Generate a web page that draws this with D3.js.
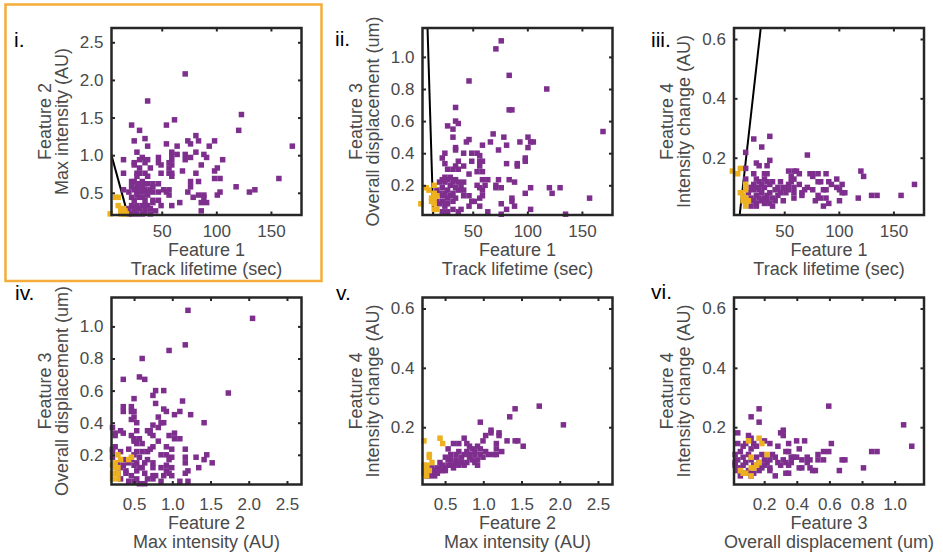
<!DOCTYPE html>
<html>
<head>
<meta charset="utf-8">
<script src="https://cdn.jsdelivr.net/npm/d3@7"></script>
<style>
  body { margin: 0; background: #fff; }
  text { font-family: "Liberation Sans", Arial, Helvetica, sans-serif; }
</style>
</head>
<body>
<svg id="chart" width="943" height="554"></svg>
<script>
// Feature axes (shared between panels)
const featureNames = ["Feature 1", "Feature 2", "Feature 3", "Feature 4"];
const featureUnits = ["Track lifetime (sec)", "Max intensity (AU)", "Overall displacement (um)", "Intensity change (AU)"];
const featureDomains = [[4, 178], [0.205, 2.69], [0.015, 1.18], [0.007, 0.637]];
const featureTicks = [[50, 100, 150], [0.5, 1.0, 1.5, 2.0, 2.5], [0.2, 0.4, 0.6, 0.8, 1.0], [0.2, 0.4, 0.6]];

const panelLabels = ["i.", "ii.", "iii.", "iv.", "v.", "vi."];
const panelPairs = [[0, 1], [0, 2], [0, 3], [1, 2], [1, 3], [2, 3]];

// i. lifetime vs max intensity
const panel1Purple = [[71.5,2.08],[37.1,1.72],[123,1.54],[61.7,1.47],[22.4,1.40],[54.3,1.40],[29.7,1.33],[120.5,1.33],[81.3,1.26],[34.7,1.22],[24.8,1.19],[73.9,1.19],[76.4,1.15],[83.7,1.19],[98.4,1.19],[37.1,1.12],[54.3,1.15],[64.1,1.12],[93.5,1.12],[169.6,1.12],[27.3,1.04],[59.2,1.04],[81.3,1.04],[59.2,1.01],[64.1,1.01],[71.5,1.01],[88.6,1.01],[32.2,0.97],[47,0.97],[76.4,0.97],[91.1,0.97],[15,0.94],[29.7,0.94],[37.1,0.94],[59.2,0.94],[71.5,0.94],[105.8,0.94],[24.8,0.90],[34.7,0.90],[47,0.90],[56.7,0.90],[24.8,0.87],[49.4,0.87],[59.2,0.87],[86.2,0.87],[39.6,0.83],[29.7,0.83],[56.7,0.83],[100.9,0.83],[98.4,0.79],[69,0.79],[15,0.76],[27.3,0.76],[29.7,0.76],[34.7,0.76],[49.4,0.76],[56.7,0.76],[59.2,0.76],[81.3,0.76],[27.3,0.72],[37.1,0.72],[59.2,0.72],[98.4,0.69],[103.4,0.69],[157.3,0.69],[24.8,0.65],[32.2,0.65],[76.4,0.65],[83.7,0.65],[22.4,0.65],[34.7,0.62],[37.1,0.62],[41.9,0.62],[47,0.62],[27.3,0.58],[32.2,0.58],[41.9,0.58],[76.4,0.58],[118.1,0.58],[15,0.54],[24.8,0.54],[34.7,0.54],[39.6,0.54],[51.8,0.54],[56.7,0.54],[135.3,0.54],[19.9,0.51],[27.3,0.51],[32.2,0.51],[37.1,0.51],[41.9,0.51],[47,0.51],[54.3,0.51],[73.9,0.51],[103.4,0.51],[130.3,0.51],[56.7,0.47],[78.8,0.44],[83.7,0.47],[88.6,0.47],[100.9,0.47],[88.6,0.44],[22.4,0.44],[29.7,0.44],[34.7,0.40],[41.9,0.40],[47,0.40],[24.8,0.40],[86.2,0.37],[91.1,0.37],[66.5,0.37],[41.9,0.37],[49.4,0.33],[59.2,0.33],[32.2,0.33],[27.3,0.33],[22.4,0.33],[37.1,0.33],[19.9,0.29],[29.7,0.29],[34.7,0.29],[24.8,0.26],[86.2,0.26],[32.2,0.22],[39.6,0.22],[22.4,0.22],[27.3,0.22],[19.9,0.22],[22.4,0.58],[29.7,0.62],[37.1,0.47],[27.3,0.47],[32.2,0.44],[39.6,0.29],[44.4,0.26],[24.8,0.31],[34.7,0.24],[29.7,0.54]];
const panel1Yellow = [[2.8,0.22],[7.7,0.44],[10.1,0.44],[10.1,0.33],[12.6,0.29],[15,0.29],[12.6,0.26],[15,0.22],[17.5,0.22],[12.6,0.22],[16.3,0.26]];

// ii. lifetime vs displacement
const panel2Purple = [[76.1,1.10],[71.2,1.05],[46.6,0.85],[83.4,0.885],[117.8,0.80],[34.3,0.685],[83.4,0.67],[85.9,0.67],[34.3,0.60],[36.8,0.585],[27,0.57],[31.9,0.55],[169.3,0.535],[68.7,0.52],[31.9,0.50],[78.5,0.50],[100.6,0.50],[46.6,0.485],[44.2,0.47],[66.2,0.47],[93.2,0.47],[103,0.47],[105.5,0.47],[58.9,0.45],[81,0.45],[100.6,0.435],[34.3,0.435],[34.3,0.42],[73.6,0.42],[24.5,0.40],[41.7,0.40],[49.1,0.40],[54,0.40],[56.4,0.385],[22.1,0.37],[98.1,0.37],[49.1,0.35],[56.4,0.35],[58.9,0.35],[98.1,0.35],[24.5,0.335],[81,0.335],[90.8,0.335],[90.8,0.32],[36.8,0.35],[34.3,0.32],[41.7,0.32],[56.4,0.32],[27,0.30],[31.9,0.30],[36.8,0.30],[54,0.285],[58.9,0.285],[46.6,0.27],[24.5,0.25],[29.4,0.25],[22.1,0.235],[27,0.235],[34.3,0.235],[58.9,0.235],[63.8,0.235],[73.6,0.235],[83.4,0.235],[19.6,0.22],[24.5,0.22],[31.9,0.22],[36.8,0.22],[41.7,0.22],[88.3,0.22],[29.4,0.20],[39.3,0.20],[54,0.20],[61.3,0.20],[71.2,0.20],[22.1,0.185],[34.3,0.185],[56.4,0.185],[71.2,0.185],[76.1,0.185],[103,0.185],[120.2,0.185],[130,0.185],[17.2,0.17],[27,0.17],[36.8,0.17],[41.7,0.17],[58.9,0.17],[19.6,0.15],[24.5,0.15],[31.9,0.15],[98.1,0.15],[122.7,0.15],[22.1,0.135],[29.4,0.135],[41.7,0.135],[46.6,0.135],[58.9,0.135],[27,0.12],[34.3,0.12],[85.9,0.12],[56.4,0.12],[157,0.12],[17.2,0.10],[22.1,0.10],[31.9,0.10],[49.1,0.10],[51.5,0.10],[85.9,0.10],[76.1,0.085],[19.6,0.085],[27,0.085],[46.6,0.07],[56.4,0.07],[88.3,0.07],[24.5,0.07],[31.9,0.05],[39.3,0.05],[81,0.05],[103,0.05],[22.1,0.035],[27,0.035],[36.8,0.035],[63.8,0.035],[76.1,0.02],[135,0.02]];
const panel2Yellow = [[2.5,0.085],[7.4,0.185],[9.8,0.17],[14.7,0.20],[14.7,0.15],[12.3,0.12],[14.7,0.12],[14.7,0.085],[14.7,0.05],[17.2,0.05],[12.3,0.10],[17.2,0.135]];

// iii. lifetime vs intensity change
const panel3Purple = [[22.1,0.263],[36.8,0.272],[29.4,0.236],[71.2,0.209],[14.7,0.218],[24.5,0.182],[27,0.173],[36.8,0.191],[34.3,0.173],[14.7,0.164],[54,0.155],[58.9,0.155],[61.3,0.155],[120.2,0.155],[22.1,0.146],[31.9,0.146],[34.3,0.146],[63.8,0.146],[73.6,0.146],[76.1,0.146],[81,0.146],[88.3,0.146],[56.4,0.137],[76.1,0.137],[122.7,0.137],[14.7,0.128],[24.5,0.128],[31.9,0.128],[58.9,0.128],[98.1,0.128],[27,0.119],[34.3,0.119],[39.3,0.119],[46.6,0.119],[56.4,0.119],[81,0.119],[83.4,0.119],[90.8,0.119],[22.1,0.11],[29.4,0.11],[36.8,0.11],[54,0.11],[63.8,0.11],[93.2,0.11],[103,0.11],[169.3,0.11],[19.6,0.10],[24.5,0.10],[31.9,0.10],[44.2,0.10],[49.1,0.10],[58.9,0.10],[71.2,0.10],[98.1,0.10],[22.1,0.092],[27,0.092],[41.7,0.092],[54,0.092],[68.7,0.092],[76.1,0.092],[85.9,0.092],[88.3,0.092],[100.6,0.092],[17.2,0.082],[29.4,0.082],[36.8,0.082],[46.6,0.082],[51.5,0.082],[58.9,0.082],[66.2,0.082],[103,0.082],[105.5,0.082],[24.5,0.073],[34.3,0.073],[44.2,0.073],[66.2,0.073],[81,0.073],[130,0.073],[135,0.073],[157,0.073],[19.6,0.064],[27,0.064],[31.9,0.064],[39.3,0.064],[58.9,0.064],[83.4,0.064],[88.3,0.064],[117.8,0.064],[22.1,0.055],[29.4,0.055],[34.3,0.055],[41.7,0.055],[49.1,0.055],[78.5,0.055],[100.6,0.055],[24.5,0.046],[31.9,0.046],[36.8,0.046],[90.8,0.046],[19.6,0.037],[24.5,0.037],[39.3,0.037],[85.9,0.037]];
const panel3Yellow = [[2.5,0.155],[7.4,0.146],[9.8,0.164],[14.7,0.11],[14.7,0.092],[9.8,0.082],[12.3,0.073],[14.7,0.064],[12.3,0.055],[17.2,0.055],[14.7,0.046],[14.7,0.037]];

// iv. max intensity vs displacement
const panel4Purple = [[1.205,1.10],[2.05,1.05],[1.17,0.885],[0.958,0.85],[0.606,0.80],[0.359,0.67],[0.57,0.685],[0.64,0.67],[0.782,0.60],[0.888,0.60],[1.733,0.585],[0.747,0.57],[0.5,0.55],[1.134,0.535],[0.782,0.52],[0.359,0.50],[0.465,0.50],[0.359,0.47],[0.5,0.47],[0.465,0.47],[0.888,0.485],[0.923,0.47],[1.099,0.47],[1.029,0.45],[1.24,0.45],[0.817,0.435],[0.5,0.435],[0.465,0.42],[0.853,0.40],[0.888,0.40],[0.535,0.40],[1.416,0.40],[0.747,0.385],[0.817,0.37],[0.218,0.37],[0.324,0.35],[0.535,0.35],[0.676,0.35],[0.711,0.35],[0.253,0.335],[0.359,0.335],[0.711,0.335],[1.029,0.335],[0.253,0.32],[0.465,0.32],[0.747,0.32],[0.958,0.32],[1.029,0.30],[1.099,0.30],[0.5,0.30],[0.57,0.30],[0.5,0.285],[0.817,0.285],[0.606,0.27],[0.535,0.27],[0.253,0.25],[0.747,0.25],[0.923,0.25],[0.218,0.235],[0.43,0.235],[0.711,0.235],[0.993,0.235],[1.17,0.235],[0.324,0.22],[0.535,0.22],[0.606,0.22],[0.676,0.22],[0.5,0.20],[0.853,0.20],[0.923,0.20],[1.451,0.20],[0.218,0.185],[0.57,0.185],[0.993,0.185],[1.17,0.185],[1.311,0.185],[0.359,0.17],[0.465,0.17],[0.676,0.17],[0.958,0.17],[1.416,0.17],[0.289,0.15],[0.43,0.15],[0.535,0.15],[0.64,0.15],[0.747,0.15],[1.17,0.15],[1.522,0.15],[0.359,0.135],[0.5,0.135],[0.923,0.135],[0.324,0.12],[0.57,0.12],[0.606,0.12],[0.747,0.12],[0.853,0.12],[0.993,0.12],[1.346,0.12],[0.394,0.10],[0.535,0.10],[0.923,0.10],[1.205,0.10],[0.289,0.085],[0.394,0.085],[0.64,0.085],[0.958,0.085],[1.17,0.085],[0.465,0.07],[0.747,0.07],[0.782,0.07],[0.888,0.07],[0.993,0.07],[0.324,0.05],[0.535,0.05],[0.676,0.05],[0.747,0.05],[0.43,0.035],[0.5,0.035],[0.853,0.035],[1.099,0.035],[1.205,0.035],[0.57,0.02],[0.64,0.02],[0.218,0.22]];
const panel4Yellow = [[0.289,0.20],[0.465,0.185],[0.43,0.17],[0.324,0.17],[0.253,0.15],[0.218,0.135],[0.289,0.12],[0.253,0.12],[0.218,0.085],[0.289,0.085],[0.218,0.05],[0.289,0.05]];

// v. max intensity vs intensity change
const panel5Purple = [[1.732,0.271],[1.416,0.262],[1.346,0.235],[0.961,0.217],[2.048,0.208],[1.101,0.190],[1.206,0.181],[1.101,0.181],[1.031,0.172],[1.206,0.172],[0.75,0.163],[1.311,0.154],[1.417,0.154],[1.452,0.154],[0.61,0.145],[0.68,0.145],[0.785,0.145],[0.996,0.154],[1.171,0.145],[0.54,0.127],[0.82,0.136],[0.925,0.136],[1.522,0.136],[1.241,0.118],[0.68,0.118],[0.855,0.127],[0.961,0.127],[1.171,0.127],[1.066,0.108],[1.136,0.108],[1.171,0.108],[0.504,0.099],[0.75,0.108],[0.89,0.108],[0.996,0.099],[0.575,0.090],[0.645,0.090],[0.82,0.099],[0.855,0.090],[0.925,0.090],[0.715,0.081],[0.61,0.072],[0.785,0.081],[0.89,0.081],[0.925,0.072],[0.434,0.081],[0.469,0.072],[0.54,0.072],[0.68,0.072],[0.75,0.072],[0.399,0.063],[0.504,0.063],[0.61,0.063],[0.364,0.054],[0.434,0.054],[0.504,0.054],[0.329,0.045],[0.399,0.045],[0.294,0.036],[0.364,0.036],[0.259,0.036],[0.645,0.108],[0.575,0.108],[0.715,0.099],[0.785,0.118],[0.82,0.108],[0.89,0.118],[0.961,0.108],[1.031,0.118],[0.469,0.054],[0.54,0.090],[0.575,0.072],[0.645,0.081],[0.294,0.054],[0.329,0.063]];
const panel5Yellow = [[0.224,0.154],[0.434,0.163],[0.469,0.145],[0.294,0.108],[0.294,0.099],[0.329,0.081],[0.224,0.072],[0.259,0.072],[0.224,0.054],[0.294,0.054],[0.224,0.045],[0.259,0.036],[0.224,0.063]];

// vi. displacement vs intensity change
const panel6Purple = [[0.596,0.271],[0.169,0.262],[0.12,0.235],[0.169,0.217],[1.055,0.208],[0.038,0.181],[0.317,0.19],[0.301,0.181],[0.317,0.172],[0.104,0.172],[0.12,0.163],[1.105,0.136],[0.399,0.154],[0.448,0.154],[0.202,0.154],[0.038,0.145],[0.087,0.145],[0.136,0.145],[0.235,0.145],[0.35,0.145],[0.612,0.145],[0.071,0.136],[0.153,0.136],[0.284,0.136],[0.415,0.127],[0.054,0.118],[0.12,0.127],[0.333,0.118],[0.35,0.118],[0.53,0.108],[0.564,0.118],[0.596,0.118],[0.859,0.118],[0.892,0.118],[0.022,0.108],[0.104,0.108],[0.186,0.108],[0.251,0.108],[0.071,0.099],[0.153,0.099],[0.268,0.099],[0.366,0.099],[0.382,0.099],[0.399,0.099],[0.431,0.09],[0.464,0.099],[0.481,0.09],[0.53,0.09],[0.564,0.09],[0.678,0.09],[0.695,0.09],[0.038,0.09],[0.12,0.09],[0.202,0.09],[0.235,0.09],[0.284,0.081],[0.317,0.09],[0.333,0.081],[0.366,0.081],[0.022,0.081],[0.087,0.081],[0.169,0.081],[0.218,0.081],[0.464,0.081],[0.022,0.072],[0.071,0.072],[0.136,0.072],[0.202,0.072],[0.301,0.072],[0.35,0.072],[0.415,0.063],[0.431,0.063],[0.481,0.063],[0.809,0.063],[0.054,0.063],[0.186,0.063],[0.235,0.063],[0.497,0.054],[0.514,0.054],[0.661,0.054],[0.038,0.054],[0.104,0.054],[0.169,0.054],[0.235,0.054],[0.35,0.045],[0.333,0.045],[0.087,0.045],[0.136,0.045],[0.268,0.036],[0.054,0.036],[0.12,0.036]];
const panel6Yellow = [[0.169,0.163],[0.104,0.154],[0.186,0.145],[0.218,0.108],[0.12,0.099],[0.169,0.081],[0.153,0.072],[0.12,0.063],[0.054,0.054],[0.071,0.045],[0.087,0.045],[0.12,0.036],[0.136,0.063]];

const purplePoints = [panel1Purple, panel2Purple, panel3Purple, panel4Purple, panel5Purple, panel6Purple];
const yellowPoints = [panel1Yellow, panel2Yellow, panel3Yellow, panel4Yellow, panel5Yellow, panel6Yellow];

// decision boundaries (data coords), only on the top row
const boundaryLines = [
  [[4, 1.0], [18.9, 0.21]],
  [[8.6, 1.18], [13.8, 0.015]],
  [[28.5, 0.637], [9.2, 0.007]],
  null, null, null
];

// layout
const svg = d3.select("#chart");
const purple = "#7E2F8E", yellow = "#EDB120", axisColor = "#262626", textColor = "#4a4a4a";
const colX = [111.5, 422.5, 734], rowY = [28, 297.5];
const boxW = 190, boxH = 187;
const rowTextOffsets = [[16.5, 35, 54], [20, 38, 57]]; // tick label, line 1, line 2 (below box)
const labelPos = [[14, 47], [335, 46], [651, 47], [15, 300], [336, 300], [651, 299]];
const marker = 5.5;

// highlight box around panel i
svg.append("rect")
  .attr("x", 5.5).attr("y", 4.5).attr("width", 316).attr("height", 276.5)
  .attr("fill", "none").attr("stroke", "#F5AC3B").attr("stroke-width", 2.5);

panelPairs.forEach((pair, i) => {
  const col = i % 3, row = Math.floor(i / 3);
  const [fx, fy] = pair;
  const g = svg.append("g").attr("transform", `translate(${colX[col]},${rowY[row]})`);

  const x = d3.scaleLinear().domain(featureDomains[fx]).range([0, boxW]);
  const y = d3.scaleLinear().domain(featureDomains[fy]).range([boxH, 0]);
  const fmtX = fx === 0 ? d3.format("d") : d3.format(".1f");
  const fmtY = d3.format(".1f");
  const off = rowTextOffsets[row];

  // clip for boundary line
  svg.append("clipPath").attr("id", "clip" + i)
    .append("rect").attr("width", boxW).attr("height", boxH);

  if (boundaryLines[i]) {
    g.append("path")
      .datum(boundaryLines[i])
      .attr("clip-path", `url(#clip${i})`)
      .attr("d", d3.line().x(d => x(d[0])).y(d => y(d[1])))
      .attr("stroke", "#000").attr("stroke-width", 2).attr("fill", "none");
  }

  // points
  g.selectAll(".pp").data(purplePoints[i]).enter().append("rect")
    .attr("x", d => x(d[0]) - marker / 2).attr("y", d => y(d[1]) - marker / 2)
    .attr("width", marker).attr("height", marker).attr("fill", purple);
  g.selectAll(".yp").data(yellowPoints[i]).enter().append("rect")
    .attr("x", d => x(d[0]) - marker / 2).attr("y", d => y(d[1]) - marker / 2)
    .attr("width", marker).attr("height", marker).attr("fill", yellow);

  // axes with inward ticks on all sides
  const bottom = g.append("g").attr("transform", `translate(0,${boxH})`)
    .call(d3.axisBottom(x).tickValues(featureTicks[fx]).tickSize(-3.5).tickFormat(fmtX));
  bottom.selectAll("text").attr("y", off[0]).attr("dy", "0.35em");
  g.append("g")
    .call(d3.axisLeft(y).tickValues(featureTicks[fy]).tickSize(-3.5).tickPadding(8).tickFormat(fmtY));
  g.append("g").call(d3.axisTop(x).tickValues(featureTicks[fx]).tickSize(-3.5).tickFormat(""));
  g.append("g").attr("transform", `translate(${boxW},0)`)
    .call(d3.axisRight(y).tickValues(featureTicks[fy]).tickSize(-3.5).tickFormat(""));

  g.selectAll(".domain").remove();
  g.selectAll(".tick line").attr("stroke", axisColor).attr("stroke-width", 2);
  g.selectAll(".tick text").attr("fill", textColor).style("font-size", "17px")
    .style("font-family", '"Liberation Sans", Arial, sans-serif');

  g.append("rect").attr("width", boxW).attr("height", boxH)
    .attr("fill", "none").attr("stroke", axisColor).attr("stroke-width", 2.5);

  // x labels
  g.append("text").attr("x", boxW / 2).attr("y", boxH + off[1]).attr("dy", "0.35em")
    .attr("text-anchor", "middle").attr("fill", textColor).style("font-size", "18px")
    .text(featureNames[fx]);
  g.append("text").attr("x", boxW / 2).attr("y", boxH + off[2]).attr("dy", "0.35em")
    .attr("text-anchor", "middle").attr("fill", textColor).style("font-size", "18px")
    .text(featureUnits[fx]);

  // y labels (rotated)
  g.append("text").attr("transform", `translate(-67,${boxH / 2}) rotate(-90)`).attr("dy", "0.35em")
    .attr("text-anchor", "middle").attr("fill", textColor).style("font-size", "18px")
    .text(featureNames[fy]);
  g.append("text").attr("transform", `translate(-50,${boxH / 2}) rotate(-90)`).attr("dy", "0.35em")
    .attr("text-anchor", "middle").attr("fill", textColor).style("font-size", "18px")
    .text(featureUnits[fy]);

  // panel label
  svg.append("text").attr("x", labelPos[i][0]).attr("y", labelPos[i][1])
    .attr("fill", "#000").style("font-size", "21px").text(panelLabels[i]);
});
</script>
</body>
</html>
